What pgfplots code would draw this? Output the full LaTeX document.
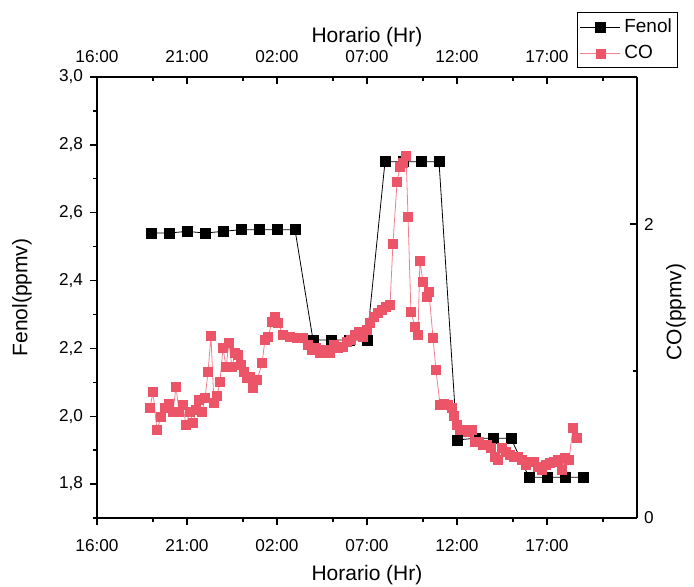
\documentclass[border=0pt]{standalone}
\usepackage{fontspec}
\setmainfont{Liberation Sans}
\usepackage{pgfplots}
\pgfplotsset{compat=1.18}
\definecolor{cored}{RGB}{236,84,104}
\pgfplotsset{myleg/.style={legend image code/.code={
   \path (0cm,0cm) -- (0.7cm,0cm);
   \draw[##1, mark=none] (0.1cm,0cm) -- (0.62cm,0cm);
   \draw[##1, only marks] plot coordinates {(0.36cm,0cm)};}}}
\begin{document}
\begin{tikzpicture}
\pgfplotsset{every axis/.append style={scale only axis, width=270pt, height=220.5pt,
  xmin=0, xmax=30, font=\fontsize{8.6}{10}\selectfont,
  /pgf/number format/assume math mode=true,
  axis line style={line width=0.8pt},
  every tick/.style={black, line width=0.7pt},
  major tick length=3.5pt, minor tick length=2pt,
  at={(0,0)}, anchor=south west,
  xtick={0,5,10,15,20,25}, xticklabels={16:00,21:00,02:00,07:00,12:00,17:00},
  minor xtick={3.1,8.1,13.1,18.1,23.1,28.1},
  label style={font=\fontsize{10.5}{12}\selectfont}}}
\begin{axis}[
 axis x line*=bottom, axis y line*=left, tick align=outside,
 ymin=1.7, ymax=3.0, ytick={1.8,2.0,2.2,2.4,2.6,2.8,3.0},
 minor ytick={1.7,1.9,2.1,2.3,2.5,2.7,2.9},
 yticklabel style={/pgf/number format/.cd, use comma, fixed, fixed zerofill, precision=1},
 xticklabel style={yshift=-3.5pt},
 xlabel={Horario (Hr)}, ylabel={Fenol(ppmv)},
 xlabel style={at={(axis description cs:0.5,0)}, anchor=center, yshift=-28.5pt},
 ylabel style={at={(axis description cs:0,0.5)}, anchor=center, yshift=37.5pt},
]
\addplot[black, line width=0.4pt, mark=square*, mark size=2.5pt] coordinates {
(3,2.54)(4,2.54)(5,2.545)(6,2.54)(7,2.545)(8,2.55)(9,2.55)(10,2.55)(11,2.55)
(12,2.225)(13,2.225)(14,2.225)(15,2.225)
(16,2.75)(17,2.75)(18,2.75)(19,2.75)
(20,1.93)(21,1.935)(22,1.935)(23,1.935)
(24,1.82)(25,1.82)(26,1.82)(27,1.82)};
\end{axis}
\begin{axis}[
 axis x line*=top, axis y line*=right, tick align=inside,
 ymin=0, ymax=3, ytick={0,2}, minor ytick={1},
 xticklabel style={yshift=3.5pt},
 xlabel={Horario (Hr)}, ylabel={CO(ppmv)},
 xlabel style={at={(axis description cs:0.5,1)}, anchor=center, yshift=20pt},
 ylabel style={at={(axis description cs:1,0.467)}, anchor=center, yshift=-19.5pt},
 legend style={draw=black, line width=0.6pt, font=\fontsize{9.5}{11}\selectfont,
   at={(0.889,1.147)}, anchor=north west, inner xsep=1pt, inner ysep=1pt, row sep=1pt},
 legend cell align=left,
]
\addlegendimage{black, line width=0.4pt, mark=square*, mark size=2.5pt, myleg}
\addlegendentry{Fenol}
\addplot[cored!75, line width=0.4pt, mark=square*, mark size=2.3pt, mark options={fill=cored, draw=cored}, myleg] coordinates {
(2.94,0.748)(3.11,0.857)(3.33,0.599)(3.56,0.687)(3.78,0.748)(4.00,0.776)(4.22,0.721)
(4.39,0.891)(4.56,0.721)(4.78,0.769)(4.94,0.633)(5.17,0.721)(5.33,0.646)(5.50,0.735)
(5.67,0.803)(5.83,0.721)(6.00,0.816)(6.17,0.993)(6.33,1.238)(6.50,0.782)(6.67,0.830)
(6.83,0.925)(7.00,1.156)(7.17,1.027)(7.33,1.190)(7.50,1.027)(7.67,1.122)(7.83,1.109)
(8.00,1.041)(8.17,0.993)(8.33,0.952)(8.50,0.959)(8.67,0.884)(8.89,0.939)(9.17,1.054)
(9.33,1.211)(9.50,1.231)(9.72,1.333)(9.89,1.367)(10.06,1.327)(10.33,1.245)(10.72,1.231)
(11.11,1.224)(11.44,1.224)(11.72,1.177)(11.94,1.143)(12.17,1.156)(12.39,1.122)(12.67,1.143)
(12.94,1.122)(13.17,1.177)(13.39,1.156)(13.67,1.163)(13.89,1.197)(14.11,1.211)(14.33,1.245)
(14.56,1.265)(14.78,1.231)(15.00,1.279)(15.17,1.327)(15.39,1.367)(15.61,1.395)(15.83,1.415)
(16.06,1.435)(16.28,1.449)(16.44,1.864)(16.67,2.286)(16.83,2.388)(17.00,2.415)(17.17,2.463)
(17.28,2.048)(17.44,1.401)(17.67,1.299)(17.83,1.245)(17.94,1.748)(18.11,1.605)(18.33,1.503)
(18.44,1.537)(18.67,1.224)(18.83,1.007)(19.06,0.769)(19.28,0.776)(19.50,0.769)(19.72,0.748)
(19.83,0.694)(20.00,0.633)(20.17,0.599)(20.39,0.599)(20.61,0.585)(20.83,0.599)(21.00,0.517)
(21.22,0.517)(21.44,0.497)(21.67,0.497)(21.89,0.476)(22.11,0.415)(22.28,0.395)(22.50,0.476)
(22.72,0.449)(22.94,0.429)(23.17,0.415)(23.39,0.415)(23.61,0.395)(23.83,0.361)(24.06,0.381)
(24.28,0.381)(24.50,0.347)(24.72,0.327)(24.94,0.361)(25.17,0.374)(25.39,0.381)(25.61,0.395)
(25.83,0.327)(26.00,0.408)(26.22,0.395)(26.44,0.612)(26.67,0.544)};
\addlegendentry{CO}
\end{axis}
\pgfresetboundingbox
\useasboundingbox (-48.5pt,-34pt) rectangle (298.5pt,259pt);
\end{tikzpicture}
\end{document}
